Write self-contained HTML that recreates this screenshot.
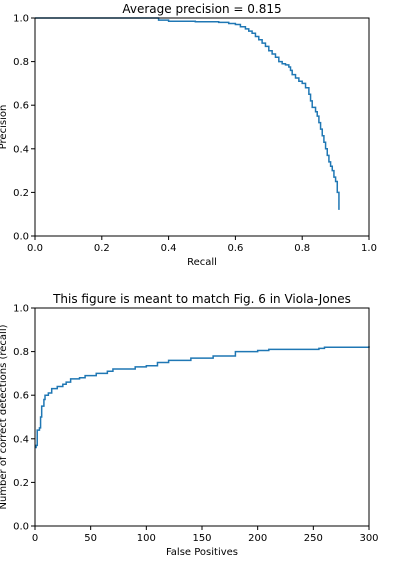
<!DOCTYPE html>
<html><head><meta charset="utf-8"><style>
body{margin:0;background:#fff;font-family:"Liberation Sans","DejaVu Sans",sans-serif;}
svg text{font-family:"DejaVu Sans","Liberation Sans",sans-serif;fill:#000;}
</style></head><body>
<svg id="c" width="417" height="561"></svg>
<script>
const prRecall=[0,0.37,0.40,0.48,0.55,0.58,0.60,0.615,0.63,0.64,0.65,0.66,0.67,0.68,0.69,0.70,0.71,0.72,0.73,0.74,0.75,0.76,0.765,0.77,0.78,0.79,0.80,0.81,0.82,0.825,0.83,0.84,0.845,0.85,0.855,0.86,0.865,0.87,0.875,0.88,0.885,0.89,0.895,0.90,0.905,0.91];
const prPrecision=[1.0,0.99,0.985,0.983,0.98,0.975,0.97,0.96,0.95,0.94,0.93,0.915,0.90,0.885,0.87,0.85,0.835,0.82,0.80,0.79,0.785,0.775,0.76,0.74,0.725,0.71,0.70,0.68,0.65,0.62,0.59,0.57,0.55,0.52,0.49,0.46,0.43,0.40,0.37,0.34,0.32,0.30,0.27,0.25,0.20,0.12];
const fpValues=[0,1,2,4,5,6,8,9,12,15,20,25,28,32,40,45,55,65,70,90,100,110,120,140,160,180,200,210,255,260,300];
const detRate=[0.36,0.37,0.44,0.45,0.50,0.55,0.58,0.60,0.61,0.63,0.64,0.65,0.66,0.675,0.68,0.69,0.70,0.71,0.72,0.73,0.735,0.75,0.76,0.77,0.78,0.80,0.805,0.81,0.815,0.82,0.825];
const prXTicks=[0,0.2,0.4,0.6,0.8,1.0];
const yTicks=[0,0.2,0.4,0.6,0.8,1.0];
const fpXTicks=[0,50,100,150,200,250,300];
const NS="http://www.w3.org/2000/svg";
const svg=document.getElementById('c');
function el(t,a,txt){const e=document.createElementNS(NS,t);for(const k in a)e.setAttribute(k,a[k]);if(txt!==undefined)e.textContent=txt;svg.appendChild(e);return e;}
function chart(o){
  const sx=v=>o.x0+(v-o.xmin)/(o.xmax-o.xmin)*(o.x1-o.x0);
  const sy=v=>o.y1-(v-o.ymin)/(o.ymax-o.ymin)*(o.y1-o.y0);
  let d='';
  for(let i=0;i<o.xs.length;i++){
    const x=sx(o.xs[i]),y=sy(o.ys[i]);
    if(i===0)d+='M'+x+' '+y;else d+=' L'+x+' '+sy(o.ys[i-1])+' L'+x+' '+y;
  }
  const p=el('path',{d:d,fill:'none',stroke:'#1f77b4','stroke-width':1.5});
  
  
  const f=el('rect',{x:o.x0,y:o.y0,width:o.x1-o.x0,height:o.y1-o.y0,fill:'none',stroke:'#000','stroke-width':1});
  
  
  o.xt.forEach(v=>{const x=sx(v);el('line',{x1:x,x2:x,y1:o.y1,y2:o.y1+4,stroke:'#000'});
    const t=el('text',{x:x,y:o.y1+15,'font-size':10,'text-anchor':'middle'},o.fmtx(v));
    
    });
  o.yt.forEach(v=>{const y=sy(v);el('line',{x1:o.x0-4,x2:o.x0,y1:y,y2:y,stroke:'#000'});
    const t=el('text',{x:o.x0-6,y:y+3.5,'font-size':10,'text-anchor':'end'},v.toFixed(1));
    
    });
  const ti=el('text',{x:(o.x0+o.x1)/2,y:o.y0-5,'font-size':12,'text-anchor':'middle'},o.title);
  
  
  const xl=el('text',{x:(o.x0+o.x1)/2,y:o.y1+29,'font-size':10,'text-anchor':'middle'},o.xlabel);
  
  
  const cy=(o.y0+o.y1)/2;
  const yl=el('text',{x:6,y:cy,'font-size':10,'text-anchor':'middle',transform:'rotate(-90 6 '+cy+')'},o.ylabel);
  
  
}
chart({name:'pr',x0:35,x1:369,y0:18,y1:236,xmin:0,xmax:1,ymin:0,ymax:1,xs:prRecall,ys:prPrecision,xt:prXTicks,yt:yTicks,fmtx:v=>v.toFixed(1),title:'Average precision = 0.815',xlabel:'Recall',ylabel:'Precision'});
chart({name:'roc',x0:35,x1:369,y0:308,y1:526,xmin:0,xmax:300,ymin:0,ymax:1,xs:fpValues,ys:detRate,xt:fpXTicks,yt:yTicks,fmtx:v=>String(v),title:'This figure is meant to match Fig. 6 in Viola-Jones',xlabel:'False Positives',ylabel:'Number of correct detections (recall)'});
</script>
</body></html>
